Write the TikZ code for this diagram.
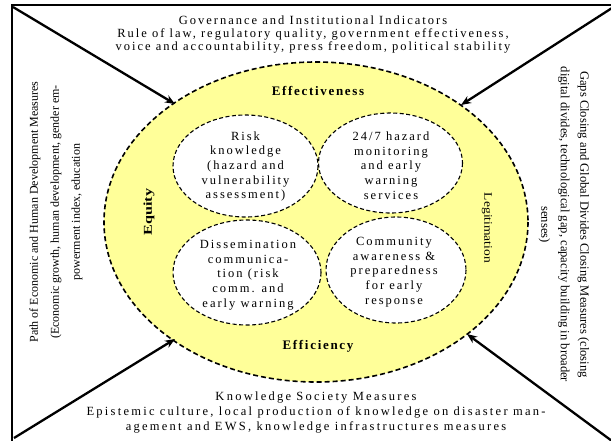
\documentclass[tikz,border=0pt]{standalone}
\usepackage{fontspec}
\setmainfont{Liberation Serif}
\newfontfamily\blobfont[LetterSpace=16]{Liberation Serif}
\newfontfamily\topfont[LetterSpace=16]{Liberation Serif}
\newfontfamily\botfont[LetterSpace=18]{Liberation Serif}
\newfontfamily\headfont[LetterSpace=13]{Liberation Serif}
\usetikzlibrary{arrows.meta}
\definecolor{paleyellow}{RGB}{255,255,153}
\tikzset{
  outerring/.style={draw, dash pattern=on 5pt off 3pt, line width=1.6pt, fill=paleyellow},
  innerblob/.style={draw, dash pattern=on 4pt off 2.5pt, line width=1.1pt, fill=white},
  pointer/.style={line width=2.3pt, -{Stealth[length=10pt,width=8pt]}},
  blobtext/.style={align=center, font=\blobfont\fontsize{12.5}{14.7}\selectfont},
  toptext/.style={align=center, font=\topfont\fontsize{12.5}{12.8}\selectfont},
  bottext/.style={align=center, font=\botfont\fontsize{12.5}{15}\selectfont},
  verttext/.style={align=center, font=\fontsize{12}{21}\selectfont},
  headtext/.style={font=\headfont\bfseries\fontsize{13}{14}\selectfont},
}
\begin{document}
\begin{tikzpicture}[x=1pt,y=-1pt]
\useasboundingbox (0,0) rectangle (611,440);
\draw[line width=1.2pt] (12,445) -- (12,5) -- (620,5);
% ring
\draw[outerring] (316,222) ellipse [x radius=212, y radius=160];
\node[headtext] (eff) at (318,91) {Effectiveness};
\node[headtext] (effi) at (318,346) {Efficiency};
\node[rotate=90, font=\bfseries\fontsize{12}{13}\selectfont] (equ) at (149,212) {\scalebox{1.35}[1]{Equity}};
\node[rotate=-90, font=\fontsize{11.5}{13}\selectfont] (leg) at (487,228) {\scalebox{1.18}[1]{Legitimation}};
% inner blobs
\draw[innerblob] (245.5,166) ellipse [x radius=72.5, y radius=51];
\draw[innerblob] (390.5,163) ellipse [x radius=72, y radius=50];
\draw[innerblob] (247,272.5) ellipse [x radius=74, y radius=52.5];
\draw[innerblob] (396,270) ellipse [x radius=70, y radius=53];
\node[blobtext] (risk) at (245.5,166.5) {Risk\\knowledge\\(hazard and\\vulnerability\\assessment)};
\node[blobtext] (hazard) at (391,165.5) {24/7 hazard\\monitoring\\and early\\warning\\services};
\node[blobtext] (diss) at (248,275) {Dissemination\\communica-\\tion (risk\\comm. and\\early warning};
\node[blobtext] (comm) at (394,272) {Community\\awareness \&\\preparedness\\for early\\response};
% side texts
\node[toptext] (gov) at (313,34.5) {Governance and Institutional Indicators\\Rule of law, regulatory quality, government effectiveness,\\voice and accountability, press freedom, political stability};
\node[bottext] (know) at (316,412.5) {Knowledge Society Measures\\Epistemic culture, local production of knowledge on disaster man-\\agement and EWS, knowledge infrastructures measures};
\node[verttext, rotate=90] (path) at (56,212) {Path of Economic and Human Development Measures\\(Economic growth, human development, gender em-\\powerment index, education};
\node[verttext, rotate=-90, font=\fontsize{12.6}{19.5}\selectfont] (gaps) at (564,224.5) {Gaps Closing and Global Divides Closing Measures (closing\\digital divides, technological gap, capacity building in broader\\senses)};
% arrows
\coordinate (ctl) at (13,7);
\coordinate (ctr) at (612,8);
\coordinate (cbl) at (14,438);
\coordinate (cbr) at (612,441);
\coordinate (ttl) at (175,104);
\coordinate (ttr) at (461,105);
\coordinate (tbl) at (175,339);
\coordinate (tbr) at (467,334);
\draw[pointer] (ctl) -- (ttl);
\draw[pointer] (ctr) -- (ttr);
\draw[pointer] (cbl) -- (tbl);
\draw[pointer] (cbr) -- (tbr);
\end{tikzpicture}
\end{document}
